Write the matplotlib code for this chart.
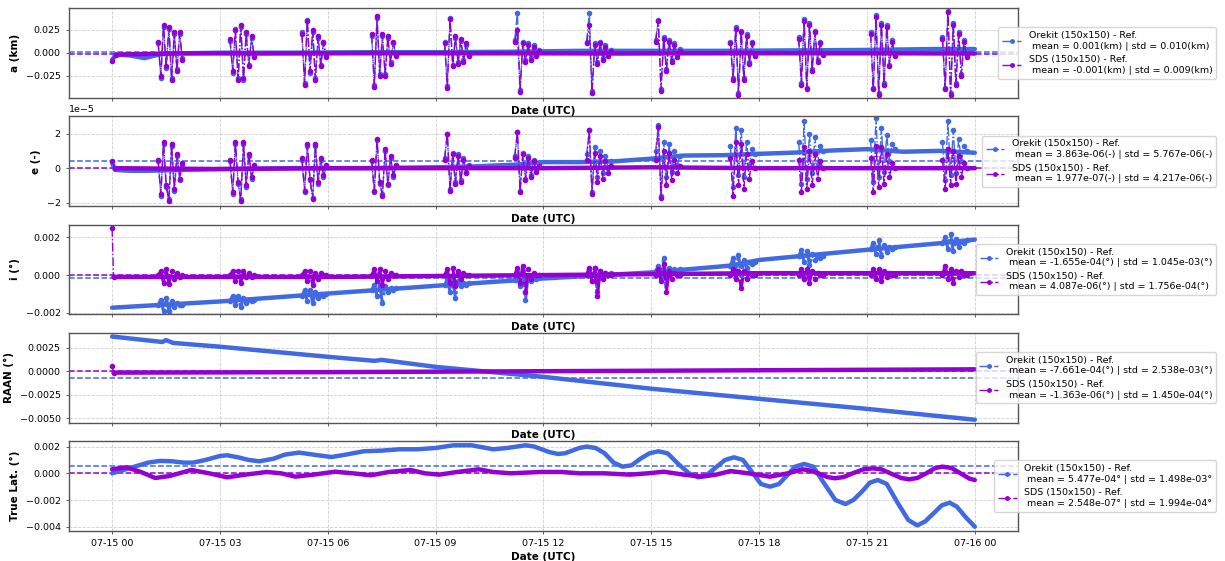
import numpy as np
import matplotlib
matplotlib.use("Agg")
import matplotlib.pyplot as plt
import matplotlib.dates as mdates
from matplotlib.lines import Line2D

T0 = np.datetime64("2024-07-15T00:00:00")
BLUE = "royalblue"
PURPLE = "darkviolet"
E_SCALE = 1e-5  # e values below are given in units of 1e-5

# manoeuvre-like bursts: start hour after 07-15 00 UTC, 10 samples each
burst_start = [1.28, 3.28, 5.28, 7.22, 9.25, 11.2, 13.2, 15.12, 17.2, 19.1, 21.1, 23.1]
burst_step = 0.075

# ---------------- a (km) ----------------
a_ore_t = [0, 0.1, 0.5, 0.9, 1.2, 1.5, 3, 5, 7, 9, 11, 12, 13, 15, 17, 19, 21, 22, 23, 24]
a_ore_v = [-0.008, -0.002, -0.003, -0.006, -0.003, -0.001, 0.0, 0.0, 0.0005, 0.0005,
           0.001, 0.0015, 0.002, 0.002, 0.002, 0.0025, 0.003, 0.0035, 0.004, 0.004]
a_sds_t = [0, 0.1, 2, 4, 6, 8, 10, 12, 14, 16, 18, 20, 22, 24]
a_sds_v = [-0.009, -0.002, -0.0007, -0.0009, -0.0007, -0.0006, -0.0007, -0.0007,
           -0.0009, -0.0007, -0.0006, -0.0007, -0.0007, -0.0009]
a_ore_burst = [
    [0.010, -0.027, 0.028, -0.017, 0.026, -0.028, 0.020, -0.018, 0.020, -0.006],
    [0.013, -0.022, 0.026, -0.028, 0.028, -0.030, 0.020, -0.013, 0.016, -0.004],
    [0.022, -0.033, 0.036, -0.022, 0.023, -0.028, 0.016, -0.013, 0.010, -0.003],
    [0.018, -0.035, 0.038, -0.023, 0.018, -0.023, 0.016, -0.010, 0.010, -0.002],
    [0.012, -0.036, 0.038, -0.013, 0.016, -0.010, 0.013, -0.008, 0.008, -0.002],
    [0.014, 0.043, -0.041, 0.012, -0.008, 0.010, -0.006, 0.008, -0.002, 0.003],
    [0.012, 0.043, -0.042, 0.010, -0.010, 0.012, -0.006, 0.008, -0.002, 0.003],
    [0.014, 0.036, -0.040, 0.017, -0.018, 0.014, -0.008, 0.010, -0.003, 0.004],
    [0.012, -0.028, 0.028, -0.044, 0.024, -0.028, 0.020, -0.010, 0.012, -0.002],
    [0.017, -0.033, 0.037, -0.038, 0.032, -0.018, 0.024, -0.008, 0.012, -0.001],
    [0.022, -0.038, 0.041, -0.044, 0.032, -0.033, 0.030, -0.013, 0.014, -0.002],
    [0.017, -0.038, 0.045, -0.044, 0.032, -0.033, 0.022, -0.023, 0.014, -0.003],
]
a_sds_burst = [
    [0.012, -0.025, 0.030, -0.015, 0.028, -0.030, 0.022, -0.020, 0.022, -0.008],
    [0.015, -0.020, 0.025, -0.030, 0.030, -0.028, 0.022, -0.015, 0.018, -0.005],
    [0.020, -0.035, 0.035, -0.020, 0.025, -0.030, 0.018, -0.015, 0.012, -0.005],
    [0.020, -0.037, 0.040, -0.025, 0.020, -0.025, 0.018, -0.012, 0.012, -0.004],
    [0.010, -0.038, 0.037, -0.015, 0.018, -0.012, 0.015, -0.010, 0.010, -0.004],
    [0.012, 0.025, -0.043, 0.010, -0.010, 0.008, -0.008, 0.006, -0.004, 0.002],
    [0.010, 0.030, -0.044, 0.008, -0.012, 0.010, -0.008, 0.006, -0.004, 0.002],
    [0.012, 0.035, -0.042, 0.015, -0.020, 0.012, -0.010, 0.008, -0.005, 0.002],
    [0.010, -0.030, 0.026, -0.046, 0.022, -0.030, 0.018, -0.012, 0.010, -0.004],
    [0.015, -0.035, 0.035, -0.040, 0.030, -0.020, 0.022, -0.010, 0.010, -0.003],
    [0.020, -0.040, 0.039, -0.046, 0.030, -0.035, 0.028, -0.015, 0.012, -0.004],
    [0.015, -0.040, 0.044, -0.046, 0.030, -0.035, 0.020, -0.025, 0.012, -0.005],
]

# ---------------- e (-) [x1e-5] ----------------
e_ore_t = [0, 0.08, 0.5, 1.0, 2.0, 3, 5, 7, 9, 10, 11.2, 12, 13, 14, 15, 15.9,
           17, 18, 19, 20, 21, 22, 23, 24]
e_ore_v = [0.3, -0.1, -0.15, -0.15, -0.1, -0.05, 0.0, 0.0, 0.05, 0.1, 0.2, 0.35,
           0.35, 0.4, 0.55, 0.73, 0.75, 0.83, 0.9, 1.02, 1.1, 0.95, 1.0, 0.89]
e_sds_t = [0, 0.08, 3, 6, 9, 12, 15, 18, 21, 24]
e_sds_v = [0.44, 0.0, -0.05, 0.0, 0.0, 0.0, 0.05, 0.0, 0.0, 0.0]
e_ore_burst = [
    [0.4, -1.6, 1.4, -1.1, -1.8, 1.3, -1.3, 0.7, -0.7, 0.2],
    [0.4, -1.5, 1.4, -0.9, -1.8, 1.4, -1.1, 0.7, -0.6, 0.1],
    [0.5, -1.4, 1.3, -0.7, -1.7, 1.3, -0.9, 0.5, -0.5, 0.1],
    [0.4, -1.4, 1.6, -0.9, -1.5, 1.0, -1.0, 0.6, -0.5, 0.1],
    [0.6, 2.0, -1.2, 0.9, -0.8, 0.8, -0.7, 0.6, -0.2, 0.2],
    [0.7, 2.1, -1.3, 0.9, -0.6, 0.7, -0.4, 0.5, -0.1, 0.3],
    [0.8, 2.2, -1.4, 1.2, -0.5, 1.0, -0.3, 0.7, 0.0, 0.4],
    [1.0, 2.5, -1.6, 1.5, -0.5, 1.4, -0.2, 1.0, 0.2, 0.7],
    [1.3, -1.1, 2.3, -0.4, 2.2, -0.5, 1.5, 0.1, 1.1, 0.8],
    [1.5, -0.9, 2.7, -0.6, 2.0, -0.3, 1.8, 0.2, 1.3, 1.0],
    [1.6, -0.8, 2.9, -0.5, 2.3, -0.2, 1.9, 0.4, 1.4, 1.1],
    [1.5, -0.7, 2.7, -0.4, 2.2, -0.3, 1.7, 0.4, 1.3, 1.0],
]
e_sds_burst = [
    [0.5, -1.5, 1.5, -1.0, -1.9, 1.4, -1.2, 0.8, -0.6, 0.3],
    [0.5, -1.4, 1.5, -0.8, -1.9, 1.5, -1.0, 0.8, -0.5, 0.2],
    [0.6, -1.3, 1.4, -0.6, -1.8, 1.4, -0.8, 0.6, -0.4, 0.2],
    [0.5, -1.3, 1.7, -0.8, -1.6, 1.1, -0.9, 0.7, -0.4, 0.2],
    [0.5, 2.0, -1.3, 0.8, -0.9, 0.7, -0.8, 0.5, -0.3, 0.1],
    [0.6, 2.1, -1.4, 0.8, -0.7, 0.6, -0.5, 0.4, -0.2, 0.1],
    [0.5, 2.2, -1.5, 0.9, -0.8, 0.7, -0.6, 0.4, -0.3, 0.1],
    [0.5, 2.4, -1.7, 1.0, -1.0, 0.9, -0.7, 0.5, -0.3, 0.1],
    [0.6, -1.6, 1.5, -1.0, 1.4, -1.2, 0.8, -0.6, 0.4, 0.0],
    [0.5, -1.4, 1.2, -1.2, 1.0, -1.0, 0.8, -0.6, 0.4, 0.0],
    [0.6, -1.4, 1.3, -1.1, 1.2, -0.9, 0.8, -0.5, 0.3, 0.0],
    [0.5, -1.2, 1.1, -1.0, 1.0, -0.9, 0.7, -0.5, 0.3, 0.0],
]

# ---------------- i (deg) ----------------
i_ore_t = [0, 3, 6, 9, 12, 15, 17.2, 18, 21, 23.1, 24]
i_ore_v = [-0.00173, -0.0014, -0.00098, -0.00057, -0.00018, 0.00014, 0.0005,
           0.0008, 0.00134, 0.0017, 0.00188]
i_sds_t = [0, 0.04, 6, 12, 18, 24]
i_sds_v = [0.0025, -0.0001, -0.0001, 0.0, 0.0001, 0.0001]
i_ore_burst = [
    [-0.0016, -0.0013, -0.0019, -0.0012, -0.0019, -0.0014, -0.0017, -0.0015, -0.0016, -0.0016],
    [-0.00135, -0.0011, -0.0016, -0.0011, -0.0017, -0.0012, -0.0015, -0.0013, -0.0014, -0.0013],
    [-0.0011, -0.0008, -0.0014, -0.0008, -0.0015, -0.0009, -0.0012, -0.001, -0.0011, -0.001],
    [-0.0008, -0.0005, -0.0011, -0.0005, -0.0015, -0.0006, -0.0009, -0.0007, -0.0008, -0.0007],
    [-0.00055, -0.0002, -0.0009, -0.0002, -0.0012, -0.0003, -0.0006, -0.0004, -0.0005, -0.0004],
    [-0.00025, 0.0001, -0.0006, 0.0002, -0.0013, 0.0, -0.0003, -0.0001, -0.0002, -0.0001],
    [0.0, 0.0003, -0.0003, 0.0004, -0.0009, 0.0002, -0.0001, 0.0001, 0.0, 0.0001],
    [0.0002, 0.0005, -0.0001, 0.0009, -0.0004, 0.0004, 0.0001, 0.0003, 0.0002, 0.0003],
    [0.0005, 0.0009, 0.0002, 0.00107, 0.0, 0.0008, 0.0004, 0.0007, 0.0006, 0.0007],
    [0.001, 0.00134, 0.0007, 0.0013, 0.00054, 0.0011, 0.0008, 0.001, 0.0009, 0.001],
    [0.0014, 0.0017, 0.0011, 0.00184, 0.001, 0.0016, 0.0012, 0.0015, 0.0014, 0.0015],
    [0.0017, 0.002, 0.0014, 0.0022, 0.00125, 0.0019, 0.0015, 0.0018, 0.0017, 0.00185],
]
i_sds_burst = [
    [0.0, 0.0002, -0.0004, 0.0003, -0.00045, 0.0002, -0.0002, 0.0001, -0.0001, 0.0],
    [0.0, 0.0002, -0.0003, 0.0002, -0.0004, 0.0002, -0.0001, 0.0001, -0.0001, 0.0],
    [0.0, 0.0002, -0.0003, 0.0002, -0.0005, 0.0001, -0.0002, 0.0001, 0.0, 0.0],
    [0.0, 0.0003, -0.0003, 0.0003, -0.0005, 0.0002, -0.0002, 0.0001, 0.0, 0.0],
    [0.0, 0.0003, -0.0004, 0.0004, -0.0006, 0.0002, -0.0002, 0.0001, 0.0, 0.0],
    [0.0, 0.0004, -0.0004, 0.0005, -0.0009, 0.0003, -0.0002, 0.0001, 0.0, 0.0],
    [0.0, 0.0004, -0.0003, 0.0004, -0.0011, 0.0002, -0.0002, 0.0001, 0.0, 0.0],
    [0.0, 0.0003, -0.0003, 0.0006, -0.0009, 0.0002, -0.0002, 0.0001, 0.0, 0.0],
    [0.0, 0.0003, -0.0002, 0.0002, -0.0007, 0.0002, -0.0002, 0.0001, 0.0, 0.0],
    [0.0, 0.0003, -0.0002, 0.0003, -0.0004, 0.0002, -0.0002, 0.0001, 0.0, 0.0],
    [0.0, 0.0003, -0.0002, 0.0003, -0.0003, 0.0002, -0.0001, 0.0001, 0.0, 0.0],
    [0.0, 0.0005, -0.0002, 0.0003, -0.0004, 0.0002, -0.0001, 0.0002, 0.0, 0.0],
]

# ---------------- RAAN (deg) ----------------
raan_ore_t = [0, 1.4, 1.5, 1.7, 3, 6, 7.3, 7.5, 9, 12, 15, 18, 21, 24]
raan_ore_v = [0.00368, 0.0031, 0.0033, 0.0030, 0.0026, 0.00153, 0.0011, 0.0012,
              0.00046, -0.0006, -0.00186, -0.00293, -0.004, -0.00515]
raan_sds_t = [0, 0.04, 6, 12, 18, 24]
raan_sds_v = [0.00057, -0.00015, -0.0001, 0.0, 0.0001, 0.0002]

# ---------------- True latitude (deg) ----------------
lat_ore_t = [0, 0.25, 0.5, 0.75, 1.0, 1.33, 1.67, 2.0, 2.25, 2.6, 3.0, 3.2, 3.5, 3.8,
             4.1, 4.5, 4.8, 5.2, 5.6, 6.1, 6.5, 7.0, 7.5, 8.0, 8.5, 9.0, 9.5, 10.0,
             10.6, 11.0, 11.5, 11.75, 12.15, 12.4, 12.6, 13.0, 13.2, 13.45, 13.7,
             13.95, 14.2, 14.45, 14.7, 14.95, 15.2, 15.45, 15.75, 16.05, 16.3, 16.55,
             16.8, 17.05, 17.3, 17.55, 17.8, 18.05, 18.3, 18.55, 18.78, 19.0, 19.25,
             19.5, 19.82, 20.12, 20.4, 20.62, 20.85, 21.08, 21.3, 21.55, 21.85, 22.15,
             22.4, 22.62, 22.85, 23.08, 23.3, 23.5, 23.75, 24.0]
lat_ore_v = [0.0, 0.0002, 0.0004, 0.0006, 0.0008, 0.00093, 0.0009, 0.0008, 0.0008,
             0.001, 0.0013, 0.00135, 0.0012, 0.001, 0.0009, 0.0011, 0.0014, 0.00155,
             0.0014, 0.00122, 0.0014, 0.00165, 0.0017, 0.0018, 0.0018, 0.0019, 0.0021,
             0.0021, 0.0018, 0.0019, 0.0021, 0.002, 0.0016, 0.00145, 0.0015, 0.0019,
             0.002, 0.0019, 0.0015, 0.0008, 0.0005, 0.0006, 0.0011, 0.0015, 0.00165,
             0.0015, 0.0007, 0.0, -0.0003, -0.0001, 0.00045, 0.001, 0.0012, 0.001,
             0.0001, -0.0008, -0.001, -0.0008, -0.00015, 0.0005, 0.0007, 0.0005,
             -0.0008, -0.002, -0.0023, -0.002, -0.0014, -0.0007, -0.0005, -0.0008,
             -0.0022, -0.0035, -0.0039, -0.0036, -0.003, -0.0024, -0.0022, -0.0025,
             -0.0033, -0.004]
lat_sds_t = [0, 0.4, 0.8, 1.2, 1.6, 2.2, 2.7, 3.2, 3.7, 4.3, 4.7, 5.1, 5.6, 6.2, 6.7,
             7.2, 7.7, 8.3, 8.7, 9.1, 9.6, 10.2, 10.6, 11.1, 11.9, 12.5, 13.0, 13.7,
             14.4, 14.9, 15.35, 15.9, 16.4, 16.8, 17.2, 17.7, 18.3, 18.8, 19.2, 19.4,
             19.65, 19.9, 20.1, 20.35, 20.6, 20.9, 21.15, 21.4, 21.65, 21.95, 22.17,
             22.4, 22.65, 22.9, 23.1, 23.35, 23.6, 23.85, 24.0]
lat_sds_v = [0.0003, 0.00045, 0.0001, -0.00035, -0.0002, 0.00025, 0.0, -0.0003,
             -0.0001, 0.0001, 0.0, -0.00025, -0.0001, 0.00012, 0.0, -0.00015, 0.0001,
             0.00025, 0.0, -0.0001, 0.0001, 0.0003, 0.0001, 0.0, 0.0001, 0.0001, 0.0,
             0.0, -0.0001, 0.0, 0.00012, -0.0001, -0.00025, -0.0001, 0.00017, 0.0,
             -0.00025, 0.0, 0.0003, 0.00022, 0.0, -0.00028, -0.00037, -0.00028, 0.0,
             0.0003, 0.00037, 0.0003, 0.0, -0.00035, -0.00045, -0.00035, 0.0, 0.0004,
             0.0005, 0.0004, 0.0, -0.0004, -0.0005]

# legend statistics (as printed on the chart)
ore_mean = [0.001, 3.863e-06, -1.655e-04, -7.661e-04, 5.477e-04]
ore_std = [0.010, 5.767e-06, 1.045e-03, 2.538e-03, 1.498e-03]
sds_mean = [-0.001, 1.977e-07, 4.087e-06, -1.363e-06, 2.548e-07]
sds_std = [0.009, 4.217e-06, 1.756e-04, 1.450e-04, 1.994e-04]
units = ["(km)", "(-)", "(°)", "(°)", "°"]
ylabels = ["a (km)", "e (-)", "i (°)", "RAAN (°)", "True Lat. (°)"]


def to_time(hours):
    return T0 + (np.asarray(hours, dtype=float) * 3600).astype("timedelta64[s]")


def fmt(v, k):
    return f"{v:.3f}" if k == 0 else f"{v:.3e}"


def draw_series(ax, t, v, bursts, color, scale=1.0, burst_lw=1.0, first_thin=False):
    t = np.asarray(t, dtype=float)
    v = np.asarray(v, dtype=float) * scale
    if first_thin:
        ax.plot(to_time(t[:2]), v[:2], color=color, ls="-.", lw=1.0, marker=".", ms=6)
        t, v = t[1:], v[1:]
    ax.plot(to_time(t), v, color=color, lw=3.2, solid_capstyle="round",
            solid_joinstyle="round")
    if bursts is None:
        return
    for start, vals in zip(burst_start, bursts):
        bt = start + burst_step * np.arange(len(vals))
        ax.plot(to_time(bt), np.asarray(vals) * scale, color=color, ls="-.",
                lw=burst_lw, marker=".", ms=6)


fig, axes = plt.subplots(5, 1, figsize=(12.25, 5.61), dpi=100, sharex=True)
fig.subplots_adjust(left=0.0563, right=0.831, top=0.9857, bottom=0.0535, hspace=0.203)

panels = [
    (a_ore_t, a_ore_v, a_ore_burst, a_sds_t, a_sds_v, a_sds_burst, 1.0, 1.0, True),
    (e_ore_t, e_ore_v, e_ore_burst, e_sds_t, e_sds_v, e_sds_burst, E_SCALE, 1.0, True),
    (i_ore_t, i_ore_v, i_ore_burst, i_sds_t, i_sds_v, i_sds_burst, 1.0, 2.2, True),
    (raan_ore_t, raan_ore_v, None, raan_sds_t, raan_sds_v, None, 1.0, 1.0, True),
    (lat_ore_t, lat_ore_v, None, lat_sds_t, lat_sds_v, None, 1.0, 1.0, False),
]
ylims = [(-0.0493, 0.0486), (-2.2e-5, 3.0e-5), (-0.00209, 0.00268),
         (-0.00547, 0.00408), (-0.00432, 0.00242)]
yticks = [[-0.025, 0.0, 0.025], [-2e-5, 0.0, 2e-5], [-0.002, 0.0, 0.002],
          [-0.005, -0.0025, 0.0, 0.0025], [-0.004, -0.002, 0.0, 0.002]]

for k, ax in enumerate(axes):
    ot, ov, ob, st, sv, sb, sc, blw, thin = panels[k]
    ax.axhline(ore_mean[k], color=BLUE, ls="--", lw=1.1)
    ax.axhline(sds_mean[k], color=PURPLE, ls="--", lw=1.1)
    draw_series(ax, ot, ov, ob, BLUE, sc, blw, first_thin=False)
    draw_series(ax, st, sv, sb, PURPLE, sc, blw, first_thin=thin)

    ax.set_ylim(*ylims[k])
    ax.set_yticks(yticks[k])
    ax.grid(True, ls="--", color="#b0b0b0", alpha=0.6, lw=0.6)
    ax.tick_params(labelsize=6.8, length=2.5, width=0.6, color="#444444")
    ax.yaxis.get_offset_text().set_fontsize(6.8)
    for sp in ax.spines.values():
        sp.set_color("#555555")
        sp.set_linewidth(1.0)
    ax.set_ylabel(ylabels[k], fontsize=7.5, fontweight="bold")
    ax.set_xlabel("Date (UTC)", fontsize=7.5, fontweight="bold", labelpad=3)

    u = units[k]
    lab_o = f"Orekit (150x150) - Ref.\n mean = {fmt(ore_mean[k], k)}{u} | std = {fmt(ore_std[k], k)}{u}"
    lab_s = f"SDS (150x150) - Ref.\n mean = {fmt(sds_mean[k], k)}{u} | std = {fmt(sds_std[k], k)}{u}"
    handles = [Line2D([], [], color=BLUE, ls="-.", lw=1.0, marker=".", ms=5),
               Line2D([], [], color=PURPLE, ls="-.", lw=1.0, marker=".", ms=5)]
    ax.legend(handles, [lab_o, lab_s], loc="center right", bbox_to_anchor=(1.2139, 0.5),
              fontsize=6.8, framealpha=0.8)

axes[-1].xaxis.set_major_locator(mdates.HourLocator(byhour=range(0, 24, 3)))
axes[-1].xaxis.set_major_formatter(mdates.DateFormatter("%m-%d %H"))

fig.savefig("out.png", dpi=100)
